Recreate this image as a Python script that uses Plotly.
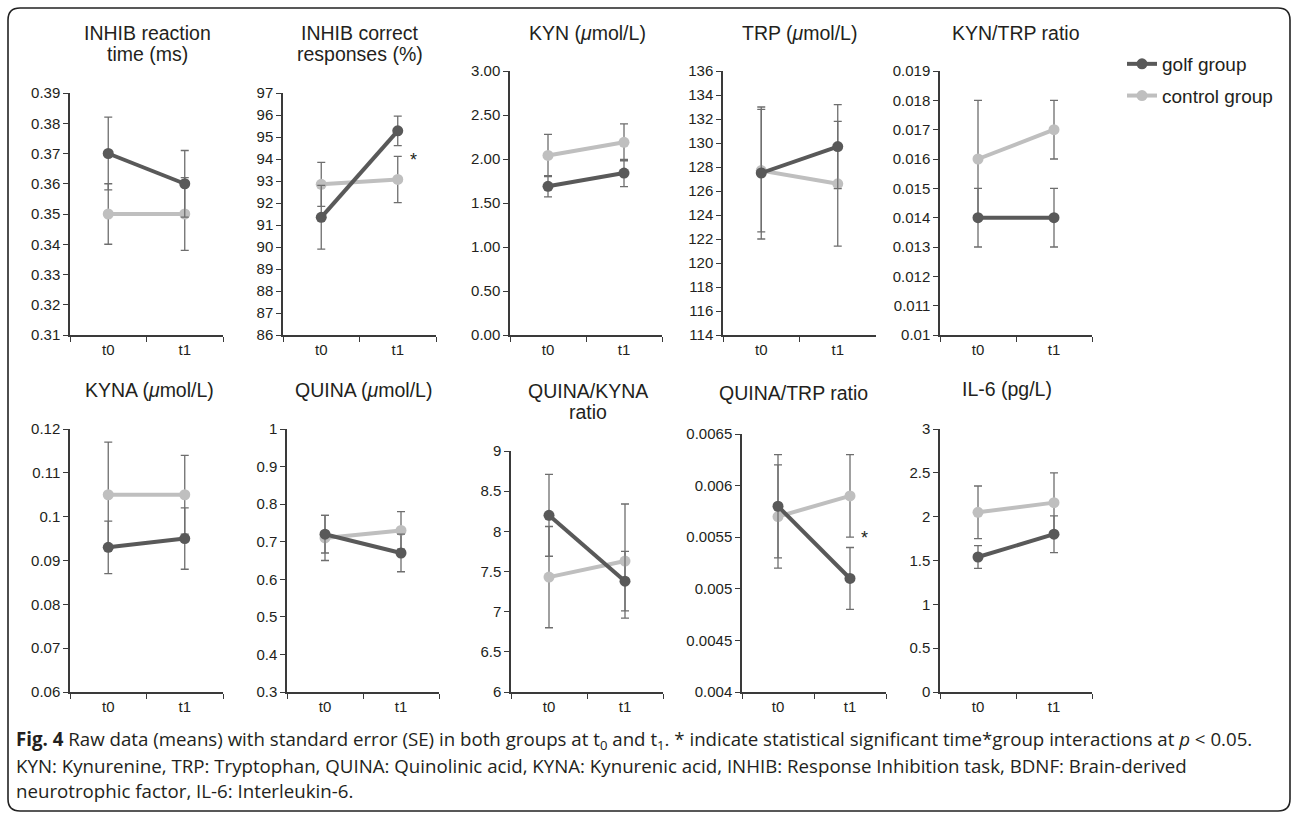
import plotly.graph_objects as go

W, H = 1295, 816

# ---------------- data ----------------
timepoints = ["t0", "t1"]

panel_titles = [
    ["INHIB reaction", "time (ms)"],
    ["INHIB correct", "responses (%)"],
    ["KYN (<i>μ</i>mol/L)"],
    ["TRP (<i>μ</i>mol/L)"],
    ["KYN/TRP ratio"],
    ["KYNA (<i>μ</i>mol/L)"],
    ["QUINA (<i>μ</i>mol/L)"],
    ["QUINA/KYNA", "ratio"],
    ["QUINA/TRP ratio"],
    ["IL-6 (pg/L)"],
]

golf_mean = [[0.370, 0.360], [91.35, 95.28], [1.69, 1.84], [127.5, 129.7], [0.014, 0.014],
             [0.093, 0.095], [0.72, 0.67], [8.20, 7.38], [0.0058, 0.0051], [1.54, 1.80]]
golf_se = [[0.012, 0.011], [1.45, 0.67], [0.12, 0.155], [5.5, 3.5], [0.001, 0.001],
           [0.006, 0.007], [0.05, 0.05], [0.51, 0.37], [0.0005, 0.0003], [0.13, 0.21]]
control_mean = [[0.350, 0.350], [92.85, 93.07], [2.04, 2.19], [127.7, 126.6], [0.016, 0.017],
                [0.105, 0.105], [0.71, 0.73], [7.43, 7.63], [0.0057, 0.0059], [2.05, 2.16]]
control_se = [[0.010, 0.012], [1.0, 1.05], [0.24, 0.21], [5.1, 5.2], [0.002, 0.001],
              [0.012, 0.009], [0.06, 0.05], [0.63, 0.71], [0.0005, 0.0004], [0.30, 0.34]]

y_min = [0.31, 86, 0, 114, 0.010, 0.06, 0.3, 6, 0.0040, 0]
y_max = [0.39, 97, 3, 136, 0.019, 0.12, 1.0, 9, 0.0065, 3]
y_step = [0.01, 1, 0.5, 2, 0.001, 0.01, 0.1, 0.5, 0.0005, 0.5]
y_fmt = ["{:g}", "{:g}", "{:.2f}", "{:g}", "{:g}", "{:g}", "{:g}", "{:g}", "{:g}", "{:g}"]

# significant interaction marker (*) : value level at which it is shown
star_value = [None, 94.0, None, None, None, None, None, None, 0.0055, None]

caption_lines = [
    "<b>Fig. 4</b> Raw data (means) with standard error (SE) in both groups at t<sub>0</sub> and t<sub>1</sub>. "
    "* indicate statistical significant time*group interactions at <i>p</i> &lt; 0.05.",
    "KYN: Kynurenine, TRP: Tryptophan, QUINA: Quinolinic acid, KYNA: Kynurenic acid, "
    "INHIB: Response Inhibition task, BDNF: Brain-derived",
    "neurotrophic factor, IL-6: Interleukin-6.",
]

# ---------------- layout geometry (pixels) ----------------
# (x_left, x_right, y_top, y_bottom)
boxes = [(70, 223, 93, 335), (283, 436, 93, 335), (510, 662, 71, 335), (723, 876, 71, 335),
         (940, 1092, 71, 335), (70, 223, 429, 692), (287, 439, 429, 692), (511, 663, 451, 692),
         (742, 886, 434, 692), (940, 1092, 429, 692)]
title_x = [147, 360, 587, 799, 1016, 149, 363, 588, 793, 1007]
title_y = [33, 33, 33, 33, 33, 390, 390, 391, 393, 389]
title_gap = 21

GOLF = "#595959"
CTRL = "#bfbfbf"
ERR = "#6e6e6e"
AX = "#3a3a3a"
TXT = "#231f20"
FONT = "Liberation Sans, Arial, sans-serif"


def px(x):
    return x / W


def py(y):
    return 1 - y / H


fig = go.Figure()
layout = dict(
    width=W, height=H, margin=dict(l=0, r=0, t=0, b=0, pad=0, autoexpand=False),
    paper_bgcolor="white", plot_bgcolor="white",
    font=dict(family=FONT, color=TXT),
    showlegend=True,
    legend=dict(x=px(1122), y=py(45), xanchor="left", yanchor="top",
                font=dict(size=19, color=TXT), bgcolor="rgba(0,0,0,0)",
                tracegroupgap=4, itemwidth=30),
)
annotations = []

for i in range(10):
    n = "" if i == 0 else str(i + 1)
    xa, ya = "x" + n, "y" + n
    x0, x1, y0, y1 = boxes[i]
    # control first (drawn underneath), golf on top
    for name, mean, se, col, rank in [("control group", control_mean[i], control_se[i], CTRL, 2),
                                      ("golf group", golf_mean[i], golf_se[i], GOLF, 1)]:
        fig.add_trace(go.Scatter(
            x=timepoints, y=mean, name=name, mode="lines+markers",
            line=dict(color=col, width=4), marker=dict(color=col, size=11),
            error_y=dict(type="data", array=se, visible=True, color=ERR, thickness=1.3, width=4),
            xaxis=xa, yaxis=ya, showlegend=(i == 0), legendrank=rank, legendgroup=name,
            hoverinfo="skip",
        ))
    nt = int(round((y_max[i] - y_min[i]) / y_step[i]))
    tv = [round(y_min[i] + k * y_step[i], 8) for k in range(nt + 1)]
    layout["xaxis" + n] = dict(
        domain=[px(x0), px(x1)], anchor=ya, type="category", range=[-0.5, 1.5],
        tickson="boundaries", ticks="outside", ticklen=5, tickcolor=AX, tickwidth=1.3,
        showline=True, linecolor=AX, linewidth=1.5, showgrid=False, zeroline=False,
        tickfont=dict(size=15, color=TXT), fixedrange=True, automargin=False,
    )
    layout["yaxis" + n] = dict(
        domain=[py(y1), py(y0)], anchor=xa, range=[y_min[i], y_max[i]],
        tickmode="array", tickvals=tv, ticktext=[y_fmt[i].format(v) for v in tv],
        ticks="outside", ticklen=5, tickcolor=AX, tickwidth=1.3,
        showline=True, linecolor=AX, linewidth=1.5, showgrid=False, zeroline=False,
        tickfont=dict(size=15, color=TXT), fixedrange=True, automargin=False,
    )
    for k, line in enumerate(panel_titles[i]):
        annotations.append(dict(
            text=line, x=px(title_x[i]), y=py(title_y[i] + k * title_gap),
            xref="paper", yref="paper", xanchor="center", yanchor="middle",
            showarrow=False, font=dict(size=19.5, color=TXT, family=FONT)))
    if star_value[i] is not None:
        annotations.append(dict(
            text="*", x=1.2, y=star_value[i], xref=xa, yref=ya,
            xanchor="center", yanchor="middle", yshift=-1, showarrow=False,
            font=dict(size=18, color=TXT, family=FONT)))

cap_y = [740, 765, 790]
for k, line in enumerate(caption_lines):
    annotations.append(dict(
        text=line, x=px(14), y=py(cap_y[k]), xref="paper", yref="paper",
        xanchor="left", yanchor="middle", showarrow=False, align="left",
        font=dict(size=18.7, color=TXT, family="Open Sans, sans-serif")))

# rounded frame around the figure
L, R, T, B, r = px(8), px(1290), py(8), py(811), 12
rx, ry = r / W, r / H
path = (f"M {L+rx},{T} L {R-rx},{T} Q {R},{T} {R},{T-ry} L {R},{B+ry} Q {R},{B} {R-rx},{B} "
        f"L {L+rx},{B} Q {L},{B} {L},{B+ry} L {L},{T-ry} Q {L},{T} {L+rx},{T} Z")
layout["shapes"] = [dict(type="path", path=path, xref="paper", yref="paper",
                         line=dict(color="#222", width=1.6), fillcolor="rgba(0,0,0,0)")]
layout["annotations"] = annotations
fig.update_layout(**layout)

fig.write_html(
    "out.html",
    config={"displayModeBar": False},
    post_script="document.body.style.margin='0';document.body.style.overflow='hidden';",
)
